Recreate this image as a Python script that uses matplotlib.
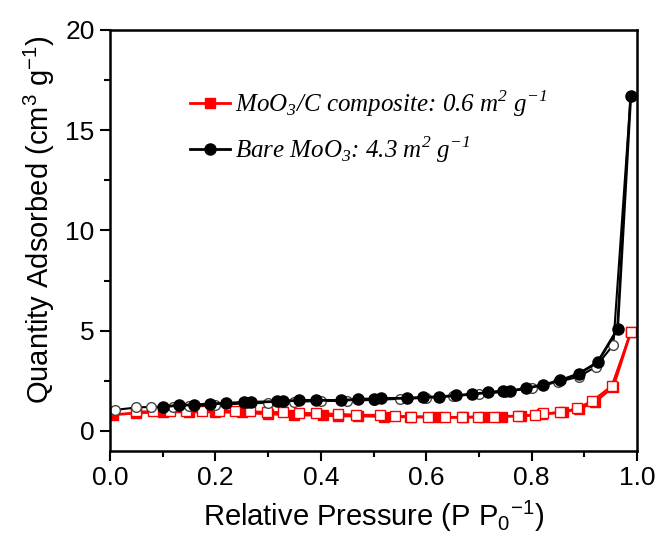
import matplotlib.pyplot as plt
from matplotlib.ticker import MultipleLocator, FormatStrFormatter

# Bare MoO3 - adsorption (filled) and desorption (open)
bare_ads_x = [0.10, 0.13, 0.16, 0.19, 0.22, 0.254, 0.267, 0.316, 0.328, 0.358, 0.39, 0.438,
              0.47, 0.50, 0.514, 0.563, 0.593, 0.624, 0.657, 0.686, 0.718, 0.746, 0.759,
              0.79, 0.822, 0.854, 0.889, 0.925, 0.963, 0.988]
bare_ads_y = [1.2, 1.28, 1.3, 1.35, 1.38, 1.43, 1.43, 1.47, 1.49, 1.52, 1.53, 1.52,
              1.58, 1.6, 1.62, 1.63, 1.68, 1.7, 1.77, 1.83, 1.92, 2.0, 2.0,
              2.13, 2.3, 2.52, 2.85, 3.42, 5.08, 16.7]
bare_des_x = [0.988, 0.955, 0.922, 0.889, 0.85, 0.80, 0.75, 0.70, 0.65, 0.60, 0.55, 0.50,
              0.45, 0.40, 0.35, 0.30, 0.26, 0.20, 0.15, 0.12, 0.077, 0.05, 0.01]
bare_des_y = [16.7, 4.3, 3.2, 2.7, 2.45, 2.15, 1.95, 1.85, 1.75, 1.65, 1.6, 1.55,
              1.5, 1.5, 1.45, 1.4, 1.38, 1.3, 1.25, 1.2, 1.2, 1.17, 1.05]

# MoO3/C composite - adsorption (filled) and desorption (open)
comp_ads_x = [0.005, 0.05, 0.10, 0.15, 0.20, 0.25, 0.30, 0.35, 0.404, 0.433, 0.47, 0.52,
              0.57, 0.62, 0.67, 0.71, 0.743, 0.78, 0.82, 0.86, 0.89, 0.92, 0.955, 0.988]
comp_ads_y = [0.8, 0.9, 0.95, 0.95, 0.95, 0.92, 0.85, 0.8, 0.78, 0.75, 0.75, 0.72,
              0.7, 0.68, 0.68, 0.7, 0.72, 0.75, 0.82, 0.95, 1.1, 1.45, 2.2, 4.93]
comp_des_x = [0.988, 0.952, 0.915, 0.886, 0.854, 0.822, 0.806, 0.775, 0.729, 0.698, 0.667,
              0.636, 0.604, 0.572, 0.541, 0.512, 0.467, 0.433, 0.391, 0.359, 0.328, 0.297,
              0.266, 0.237, 0.206, 0.174, 0.144, 0.114, 0.081, 0.05]
comp_des_y = [4.93, 2.25, 1.5, 1.13, 0.92, 0.88, 0.8, 0.75, 0.72, 0.72, 0.68,
              0.68, 0.72, 0.72, 0.75, 0.8, 0.8, 0.85, 0.88, 0.9, 0.93, 0.95,
              0.97, 1.0, 1.0, 1.0, 1.0, 1.0, 0.97, 0.97]

plt.rcParams['font.family'] = 'Liberation Sans'
plt.rcParams['mathtext.fontset'] = 'custom'
plt.rcParams['mathtext.rm'] = 'Liberation Sans'
plt.rcParams['mathtext.sf'] = 'Liberation Serif:italic'

fig = plt.figure(figsize=(6.6, 5.45), dpi=100)
ax = fig.add_axes([0.1667, 0.1725, 0.7985, 0.7725])

red = '#ff0000'
ax.plot(comp_ads_x, comp_ads_y, '-s', color=red, lw=2, ms=7, mfc=red, mec=red,
        label=r'MoO$_{\mathsf{3}}$/C composite: 0.6 m$^{\mathsf{2}}$ g$^{\mathsf{-1}}$')
ax.plot(comp_des_x, comp_des_y, '-s', color=red, lw=1.5, ms=7, mfc='white', mec=red)
ax.plot(bare_des_x, bare_des_y, '-o', color='black', lw=1.5, ms=7, mfc='white', mec='#444444')
ax.plot(bare_ads_x, bare_ads_y, '-o', color='black', lw=2, ms=8, mfc='black', mec='black',
        label=r'Bare MoO$_{\mathsf{3}}$: 4.3 m$^{\mathsf{2}}$ g$^{\mathsf{-1}}$')

ax.set_xlim(0, 1.0)
ax.set_ylim(-1, 20)
ax.xaxis.set_major_locator(MultipleLocator(0.2))
ax.xaxis.set_minor_locator(MultipleLocator(0.1))
ax.xaxis.set_major_formatter(FormatStrFormatter('%.1f'))
ax.yaxis.set_major_locator(MultipleLocator(5))
ax.yaxis.set_minor_locator(MultipleLocator(2.5))
ax.tick_params(which='major', direction='out', length=7, width=1.5, labelsize=19, pad=4)
ax.tick_params(which='minor', direction='out', length=4, width=1.5)
for s in ax.spines.values():
    s.set_linewidth(1.8)

ax.set_xlabel(r'Relative Pressure (P P$_0$$^{-1}$)', fontsize=21, labelpad=6)
ax.set_ylabel(r'Quantity Adsorbed (cm$^3$ g$^{-1}$)', fontsize=21)
ax.yaxis.set_label_coords(-0.1, 0.55)

leg = ax.legend(loc='upper left', bbox_to_anchor=(0.11, 0.915), frameon=False,
                handlelength=1.6, labelspacing=0.6, handletextpad=0.2,
                prop={'family': 'Liberation Serif', 'style': 'italic', 'size': 18})

fig.savefig('out.png', dpi=100)
